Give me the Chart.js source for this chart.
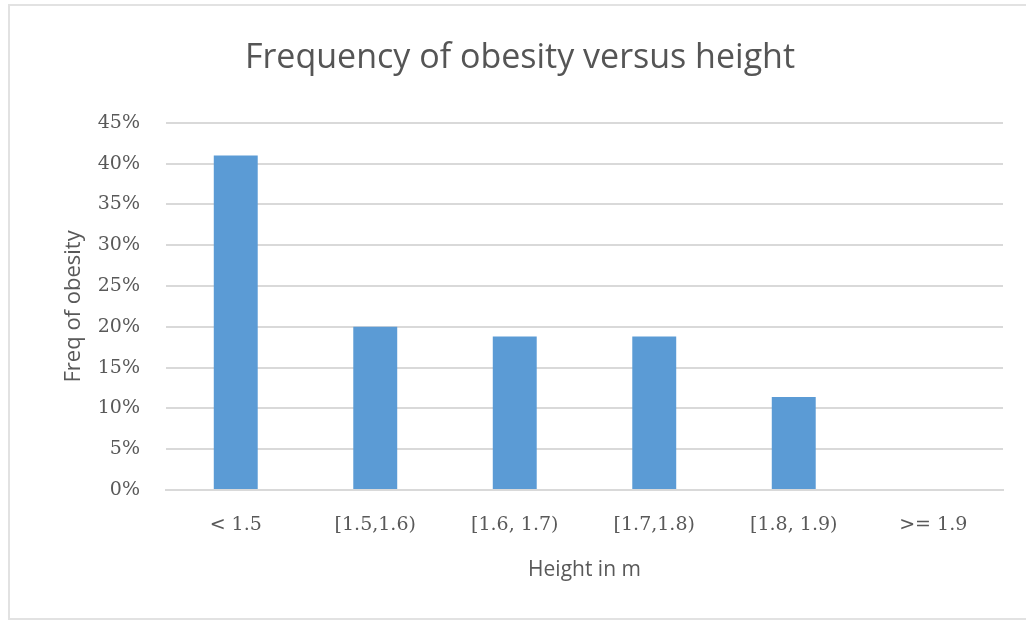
<!DOCTYPE html>
<html>
<head>
<meta charset="utf-8">
<script src="https://cdn.jsdelivr.net/npm/chart.js@4/dist/chart.umd.min.js"></script>
<style>
  body { margin: 0; background: #fff; }
  #grafico { position: absolute; left: 0; top: 0; }
  #moldura {
    position: absolute; left: 8px; top: 4px; width: 1030px; height: 612px;
    border: 2px solid #e2e2e2; pointer-events: none;
  }
</style>
</head>
<body>
<canvas id="grafico" width="1026" height="620"></canvas>
<div id="moldura"></div>
<script>
var faixas = ['< 1.5', '[1.5,1.6)', '[1.6, 1.7)', '[1.7,1.8)', '[1.8, 1.9)', '>= 1.9'];
var freqObesidade = [41, 20, 18.8, 18.8, 11.4, 0];
var escalaMax = 45;
var escalaPasso = 5;

var corTexto = '#595959';

new Chart(document.getElementById('grafico').getContext('2d'), {
  type: 'bar',
  data: {
    labels: faixas,
    datasets: [{
      label: 'Freq of obesity',
      backgroundColor: '#5b9bd5',
      data: freqObesidade,
      barPercentage: 0.315,
      categoryPercentage: 1
    }]
  },
  options: {
    responsive: false,
    animation: false,
    layout: { padding: { left: 37, right: 23, top: 38, bottom: 0 } },
    plugins: {
      legend: { display: false },
      tooltip: { enabled: false },
      title: {
        display: true,
        text: 'Frequency of obesity versus height',
        color: '#555',
        font: { family: 'Open Sans', size: 34, weight: 'normal' },
        padding: { top: 0, bottom: 44 }
      }
    },
    scales: {
      x: {
        afterFit: function(escala) { escala.height = 130; },
        grid: { display: false, drawTicks: false },
        border: { display: true, color: '#d9d9d9', width: 2 },
        ticks: { color: corTexto, padding: 24, font: { family: 'DejaVu Serif', size: 19 } },
        title: {
          display: true, text: 'Height in m', color: corTexto,
          font: { family: 'Open Sans', size: 21 },
          padding: { top: 0, bottom: 37 }
        }
      },
      y: {
        min: 0, max: escalaMax,
        afterFit: function(escala) { escala.width = 129; },
        grid: { color: '#d9d9d9', lineWidth: 2, drawTicks: false },
        border: { display: false },
        ticks: {
          stepSize: escalaPasso, color: corTexto, padding: 26,
          font: { family: 'DejaVu Serif', size: 19 },
          callback: function(v) { return v + '%'; }
        },
        title: {
          display: true, text: 'Freq of obesity', color: corTexto,
          font: { family: 'Open Sans', size: 22 },
          padding: { top: 24, bottom: 0 }
        }
      }
    }
  }
});
</script>
</body>
</html>
